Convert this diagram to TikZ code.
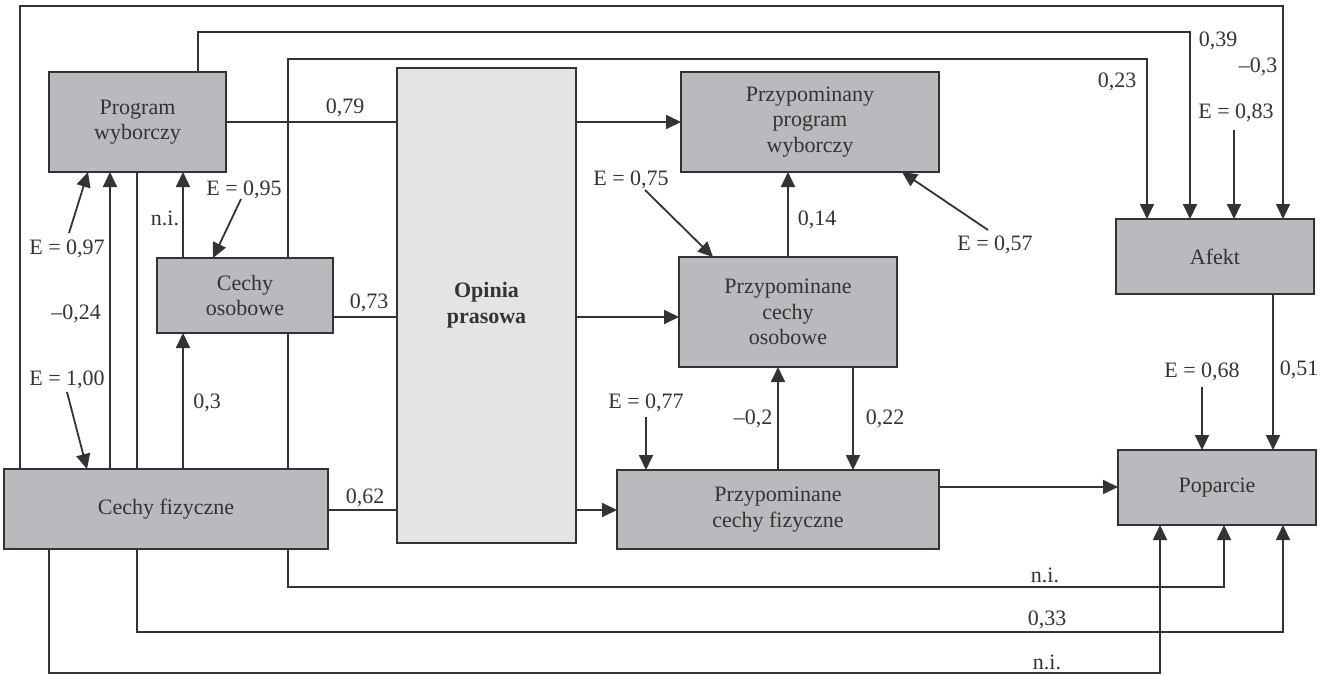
\documentclass[tikz,border=0pt]{standalone}
\usepackage{fontspec}
\setmainfont{Liberation Serif}
\usetikzlibrary{arrows.meta}
\pgfdeclarelayer{bg}
\pgfsetlayers{bg,main}
\definecolor{ln}{HTML}{333333}
\definecolor{boxg}{HTML}{B9BABD}
\definecolor{opg}{HTML}{E3E4E6}
\begin{document}
\begin{tikzpicture}[x=0.5pt,y=-0.5pt,
  font=\fontsize{11}{12.8}\selectfont,
  box/.style={draw=ln,line width=0.8pt,fill=boxg,inner sep=0pt,outer sep=0pt,align=center,text=ln},
  conn/.style={draw=ln,line width=0.9pt},
  arr/.style={conn,-{Triangle[length=7.5pt,width=7pt]}},
  lbl/.style={text=ln,inner sep=1pt}]
\useasboundingbox (0,0) rectangle (1332,675);
% boxes
\node[box,minimum width=88.5pt,minimum height=50pt] (pw) at (137.5,122) {Program\\wyborczy};
\node[box,minimum width=88pt,minimum height=37.5pt] (co) at (245,295.5) {Cechy\\osobowe};
\node[box,minimum width=162pt,minimum height=40pt] (cf) at (166,509) {Cechy fizyczne};
\node[box,fill=opg,minimum width=89.5pt,minimum height=237.5pt] (op) at (486.5,305.5) {\textbf{Opinia}\\\textbf{prasowa}};
\node[box,minimum width=129pt,minimum height=50pt] (ppw) at (810,122) {Przypominany\\program\\wyborczy};
\node[box,minimum width=109pt,minimum height=55pt] (pco) at (788,312) {Przypominane\\cechy\\osobowe};
\node[box,minimum width=161pt,minimum height=39.5pt] (pcf) at (778,509.5) {Przypominane\\cechy fizyczne};
\node[box,minimum width=99pt,minimum height=37.5pt] (af) at (1215,256.5) {Afekt};
\node[box,minimum width=99pt,minimum height=37.5pt] (pp) at (1217,487.5) {Poparcie};
% E labels
\node[lbl] (e97) at (67,249) {E = 0,97};
\node[lbl] (e100) at (67,380) {E = 1,00};
\node[lbl] (e95) at (244,190) {E = 0,95};
\node[lbl] (e75) at (631,180) {E = 0,75};
\node[lbl] (e57) at (995,245) {E = 0,57};
\node[lbl] (e77) at (646,403) {E = 0,77};
\node[lbl] (e68) at (1202,372) {E = 0,68};
\node[lbl] (e83) at (1236,113) {E = 0,83};
\coordinate (s97) at (69,233);
\coordinate (s100) at (67,392);
\coordinate (s95) at (241,199);
\coordinate (s75) at (645,190);
\coordinate (s57) at (988,230);
\coordinate (s77) at (646,417);
\coordinate (s68) at (1202,387);
\coordinate (s83) at (1234,130);
% coefficient labels
\node[lbl] at (345,108) {0,79};
\node[lbl] at (369,303) {0,73};
\node[lbl] at (365,498) {0,62};
\node[lbl] at (76,314) {–0,24};
\node[lbl] at (165,218) {n.i.};
\node[lbl] at (207,403) {0,3};
\node[lbl] at (817,220) {0,14};
\node[lbl] at (753,419) {–0,2};
\node[lbl] at (885,419) {0,22};
\node[lbl] at (1299,370) {0,51};
\node[lbl] at (1218,41) {0,39};
\node[lbl] at (1258,67) {–0,3};
\node[lbl] at (1117,82) {0,23};
\node[lbl] at (1045,575) {n.i.};
\node[lbl] at (1047,620) {0,33};
\node[lbl] at (1047,662) {n.i.};
\begin{pgfonlayer}{bg}
% long paths to Afekt
\draw[arr] (cf.north -| 20,0) -- (20,6) -| (af.north -| 1283,0);
\draw[arr] (pw.north -| 198,0) -- (198,32) -| (af.north -| 1190,0);
\draw[arr] (co.north -| 288,0) -- (288,59) -| (af.north -| 1147,0);
\draw[arr] (s83) -- (af.north -| s83);
% to Opinia
\draw[conn] (pw.east) -- (op.west |- pw.east);
\draw[conn] (co.east |- 0,317) -- (op.west |- 0,317);
\draw[conn] (cf.east |- 0,510) -- (op.west |- 0,510);
% from Opinia
\draw[arr] (op.east |- 0,122) -- (ppw.west |- 0,122);
\draw[arr] (op.east |- 0,317) -- (pco.west |- 0,317);
\draw[arr] (op.east |- 0,510) -- (pcf.west |- 0,510);
% right middle
\draw[arr] (pco.north) -- (ppw.south -| pco.north);
\draw[arr] (s75) -- (pco.north -| 713,0);
\draw[arr] (s57) -- (ppw.south -| 902,0);
\draw[arr] (pcf.north -| 778,0) -- (pco.south -| 778,0);
\draw[arr] (pco.south -| 853,0) -- (pcf.north -| 853,0);
\draw[arr] (s77) -- (pcf.north -| s77);
\draw[arr] (pcf.east |- 0,487) -- (pp.west |- 0,487);
\draw[arr] (af.south -| 1273,0) -- (pp.north -| 1273,0);
\draw[arr] (s68) -- (pp.north -| s68);
% bottom paths to Poparcie
\draw[arr] (co.south -| 288,0) -- (288,587) -| (pp.south -| 1224,0);
\draw[arr] (pw.south -| 137,0) -- (137,632) -| (pp.south -| 1283,0);
\draw[arr] (cf.south -| 49,0) -- (49,673) -| (pp.south -| 1160,0);
% left part
\draw[arr] (cf.north -| 110,0) -- (pw.south -| 110,0);
\draw[arr] (s97) -- (pw.south -| 88,0);
\draw[arr] (s100) -- (cf.north -| 87,0);
\draw[arr] (co.north -| 183,0) -- (pw.south -| 183,0);
\draw[arr] (s95) -- (co.north -| 213,0);
\draw[arr] (cf.north -| 183,0) -- (co.south -| 183,0);
\end{pgfonlayer}
\end{tikzpicture}
\end{document}
